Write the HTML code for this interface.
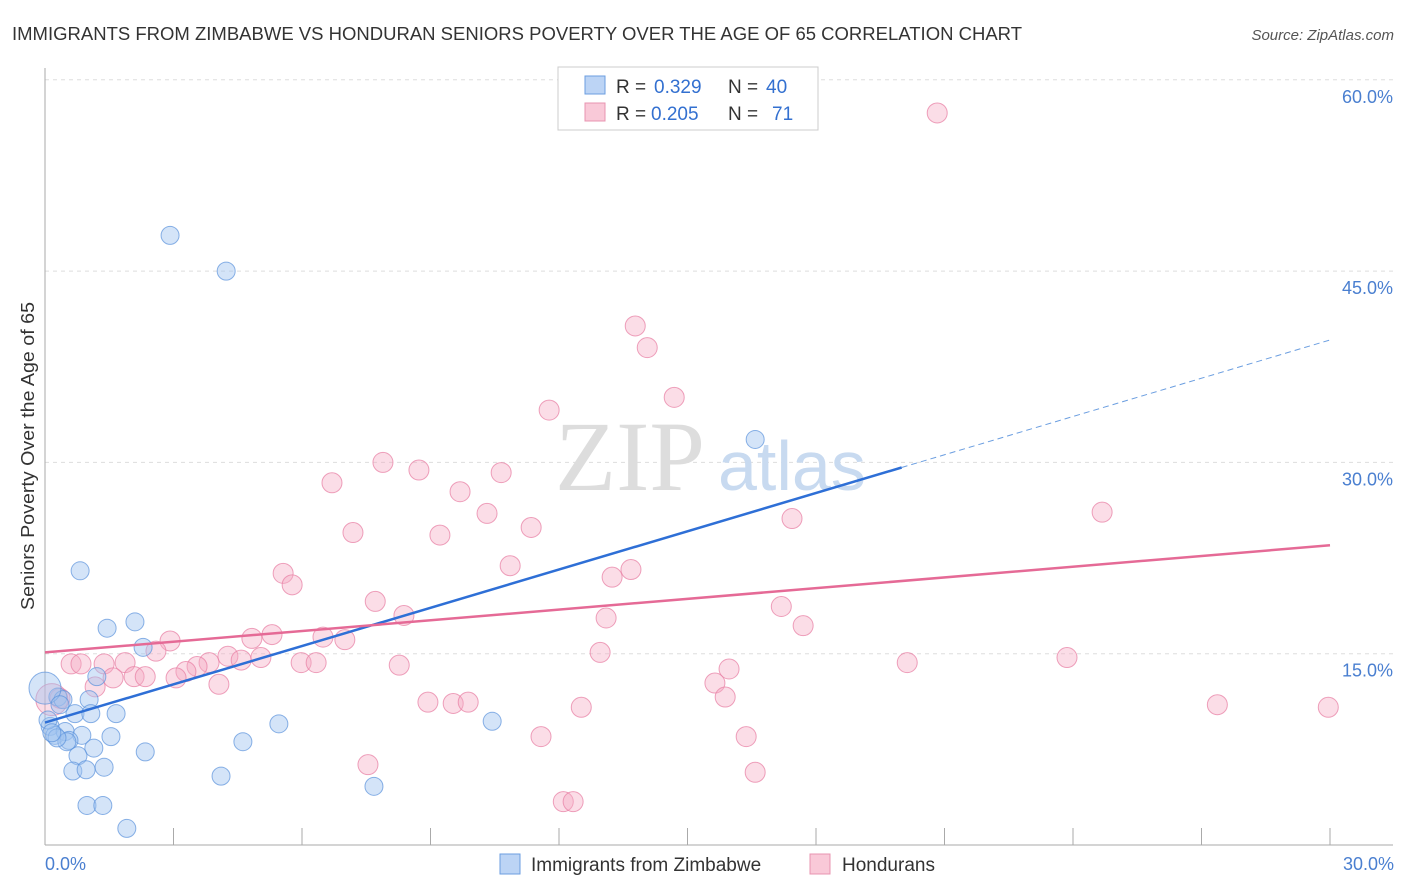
<!DOCTYPE html>
<html><head><meta charset="utf-8"><style>
body{margin:0;background:#fff;font-family:"Liberation Sans",sans-serif}
svg{display:block}
</style></head><body>
<svg width="1406" height="892">
<text x="12" y="40" font-size="18" fill="#333" textLength="1010" lengthAdjust="spacingAndGlyphs">IMMIGRANTS FROM ZIMBABWE VS HONDURAN SENIORS POVERTY OVER THE AGE OF 65 CORRELATION CHART</text>
<text x="1394" y="40" font-size="15" fill="#555" font-style="italic" text-anchor="end">Source: ZipAtlas.com</text>
<g id="grid"></g>
<text x="555" y="490" font-family="Liberation Serif" font-size="100" fill="#ddd">ZIP</text>
<text x="718" y="490" font-size="70" fill="#c8daf0">atlas</text>
<g id="axes"></g>
<g id="pts"></g>
<g id="trends"></g>
<text transform="translate(34,456) rotate(-90)" font-size="18" fill="#333" text-anchor="middle" textLength="308" lengthAdjust="spacingAndGlyphs">Seniors Poverty Over the Age of 65</text>
<text x="45" y="870" font-size="18" fill="#4a7fd0">0.0%</text>
<text x="1394" y="870" font-size="18" fill="#4a7fd0" text-anchor="end">30.0%</text>
<g>
<rect x="558" y="67" width="260" height="63" fill="#fff" stroke="#ccc"/>
<rect x="585" y="76" width="20" height="18" fill="#bcd4f5" stroke="#6b9ee0"/>
<rect x="585" y="103" width="20" height="18" fill="#f9c9d8" stroke="#e894b0"/>
<text y="93" font-size="19" fill="#333"><tspan x="616">R =</tspan><tspan x="654" fill="#3370d0">0.329</tspan><tspan x="728">N =</tspan><tspan x="766" fill="#3370d0">40</tspan></text>
<text y="120" font-size="19" fill="#333"><tspan x="616">R =</tspan><tspan x="651" fill="#3370d0">0.205</tspan><tspan x="728">N =</tspan><tspan x="772" fill="#3370d0">71</tspan></text>
</g>
<g>
<rect x="500" y="854" width="20" height="20" fill="#bcd4f5" stroke="#6b9ee0"/>
<text x="531" y="871" font-size="19" fill="#333">Immigrants from Zimbabwe</text>
<rect x="810" y="854" width="20" height="20" fill="#f9c9d8" stroke="#e894b0"/>
<text x="842" y="871" font-size="19" fill="#333">Hondurans</text>
</g>
</svg>
<script>
const yTicks=[15,30,45,60];
const yTickLabels=["15.0%","30.0%","45.0%","60.0%"];
const blueX=[2.92,4.23,16.58,0.82,1.45,2.10,2.29,1.21,1.03,0.30,0.42,0.70,1.07,1.66,0.12,0.23,0.47,0.86,1.54,0.56,1.14,2.34,0.77,0.65,0.96,1.38,4.62,5.46,10.44,4.11,7.68,0.98,1.35,1.91,0,0.07,0.35,0.51,0.28,0.16];
const blueY=[47.8,45.0,31.8,21.5,17.0,17.5,15.5,13.2,11.4,11.6,11.4,10.3,10.3,10.3,9.3,8.6,8.9,8.6,8.5,8.2,7.6,7.3,7.0,5.8,5.9,6.1,8.1,9.5,9.7,5.4,4.6,3.1,3.1,1.3,12.3,9.8,11.0,8.1,8.4,8.8];
const pinkX=[20.83,13.78,14.06,14.69,11.77,7.89,8.73,6.70,10.65,9.69,10.32,11.35,7.19,9.22,17.44,24.68,10.86,13.68,13.24,5.56,5.77,7.71,8.38,13.10,17.19,17.70,2.92,5.30,4.83,6.49,7.00,2.59,0.61,0.84,1.38,1.87,3.83,3.55,3.29,4.27,4.58,5.04,5.98,6.33,8.27,12.96,20.13,23.86,15.97,3.06,1.59,2.08,2.34,1.17,4.06,15.64,15.88,0.35,8.94,9.53,9.88,12.52,27.37,29.96,11.58,16.37,7.54,16.58,12.10,12.33,0.16];
const pinkY=[57.4,40.7,39.0,35.1,34.1,30.0,29.4,28.4,29.2,27.7,26.0,24.9,24.5,24.3,25.6,26.1,21.9,21.6,21.0,21.3,20.4,19.1,18.0,17.8,18.7,17.2,16.0,16.5,16.2,16.3,16.1,15.2,14.2,14.2,14.2,14.3,14.3,14.0,13.6,14.8,14.5,14.7,14.3,14.3,14.1,15.1,14.3,14.7,13.8,13.1,13.1,13.2,13.2,12.4,12.6,12.7,11.6,11.5,11.2,11.1,11.2,10.8,11.0,10.8,8.5,8.5,6.3,5.7,3.4,3.4,11.4];
const blueTrend=[9.6,39.6], blueSolidEnd=20.0;
const pinkTrend=[15.1,23.5];
const NS="http://www.w3.org/2000/svg";
const X=v=>45+v/30*1285, Y=v=>845-v/15*191.3;
function mk(t,a,p){const e=document.createElementNS(NS,t);for(const k in a)e.setAttribute(k,a[k]);p.appendChild(e);return e;}
const grid=document.getElementById('grid'),axes=document.getElementById('axes');
yTicks.forEach((t,i)=>{
 const l=mk('line',{x1:45,x2:1393,y1:Y(t),y2:Y(t),stroke:'#ddd','stroke-dasharray':'4,4'},grid);
 
 
 const tx=mk('text',{x:1393,y:Y(t)+23,'font-size':18,fill:'#4a7fd0','text-anchor':'end'},grid);
 tx.textContent=yTickLabels[i];
 
 
});
mk('line',{x1:45,x2:45,y1:68,y2:845,stroke:'#aaa'},axes);
mk('line',{x1:45,x2:1393,y1:845,y2:845,stroke:'#aaa'},axes);
for(let i=0;i<=10;i++){const t=mk('line',{x1:X(i*3),x2:X(i*3),y1:828,y2:845,stroke:'#aaa'},axes);
 
 }
const pts=document.getElementById('pts');
pinkX.forEach((x,i)=>{const big=i==pinkX.length-1;
 const c=mk('circle',{cx:X(x),cy:Y(pinkY[i]),r:big?16:10,fill:'rgba(246,170,195,0.4)',stroke:'rgba(232,130,165,0.75)','stroke-width':1},pts);
 
 });
blueX.forEach((x,i)=>{const big=i==34;
 const c=mk('circle',{cx:X(x),cy:Y(blueY[i]),r:big?16:9,fill:'rgba(160,195,240,0.45)',stroke:'rgba(90,145,220,0.7)','stroke-width':1},pts);
 
 });
const tr=document.getElementById('trends');
const by=v=>blueTrend[0]+(blueTrend[1]-blueTrend[0])*v/30;
let l=mk('line',{x1:X(0),y1:Y(blueTrend[0]),x2:X(blueSolidEnd),y2:Y(by(blueSolidEnd)),stroke:'#2e6fd6','stroke-width':2.5},tr);


l=mk('line',{x1:X(blueSolidEnd),y1:Y(by(blueSolidEnd)),x2:X(30),y2:Y(blueTrend[1]),stroke:'#6b9ee0','stroke-width':1,'stroke-dasharray':'6,4'},tr);


l=mk('line',{x1:X(0),y1:Y(pinkTrend[0]),x2:X(30),y2:Y(pinkTrend[1]),stroke:'#e56a96','stroke-width':2.5},tr);


</script>
</body></html>
